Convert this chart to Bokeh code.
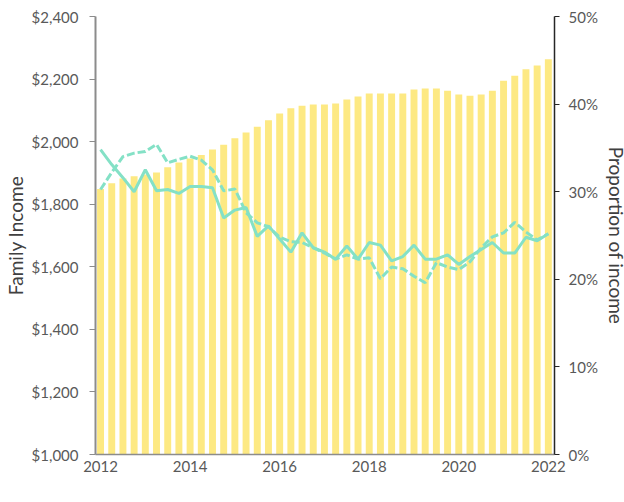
from bokeh.plotting import figure
from bokeh.models import (ColumnDataSource, Range1d, LinearAxis, FixedTicker,
                          NumeralTickFormatter, PrintfTickFormatter, Legend, LegendItem)
from bokeh.embed import file_html
from bokeh.resources import INLINE

# ---- data (quarterly, 2012 Q1 .. 2022 Q1) ----
year_labels = ["2012", "2014", "2016", "2018", "2020", "2022"]
family_income = [1849, 1867, 1882, 1889, 1895, 1901, 1918, 1933, 1946, 1957,
                 1975, 1990, 2011, 2029, 2048, 2068, 2090, 2107, 2115, 2119,
                 2119, 2122, 2135, 2144, 2154, 2154, 2154, 2154, 2167, 2170,
                 2170, 2163, 2151, 2147, 2151, 2163, 2195, 2211, 2231, 2243, 2263]
proportion_buy = [34.8, 33.1, 31.6, 30.0, 32.5, 30.1, 30.25, 29.8, 30.6, 30.6,
                  30.45, 27.0, 27.9, 28.2, 24.9, 26.1, 24.6, 23.1, 25.3, 23.6,
                  23.1, 22.3, 23.8, 22.3, 24.2, 23.9, 22.1, 22.6, 23.9, 22.3,
                  22.3, 22.8, 21.7, 22.6, 23.4, 24.2, 23.0, 23.0, 24.8, 24.4, 25.2]
proportion_rent = [30.25, 32.2, 34.0, 34.4, 34.6, 35.4, 33.3, 33.7, 34.05, 33.6,
                   32.5, 30.1, 30.3, 27.6, 26.45, 26.0, 24.8, 24.3, 24.2, 23.6,
                   23.0, 22.3, 22.8, 22.3, 22.45, 20.06, 21.4, 21.2, 20.35, 19.6,
                   21.9, 21.4, 21.1, 22.0, 23.6, 24.85, 25.3, 26.5, 25.4, 24.5, 25.2]
quarter_index = list(range(len(family_income)))

src = ColumnDataSource(dict(x=quarter_index, income=family_income,
                            buy=proportion_buy, rent=proportion_rent))

FONT = "Lato"
TICK_COLOR = "#595959"
LABEL_COLOR = "#404040"
BAR_COLOR = "#FDE983"
LINE_COLOR = "#84E1C6"

p = figure(frame_width=459, frame_height=438, output_backend="svg",
           toolbar_location=None,
           x_range=Range1d(-0.45, len(family_income) - 0.45),
           y_range=Range1d(1000, 2400),
           min_border_left=88, min_border_right=0, min_border_top=16,
           min_border_bottom=0)
p.grid.visible = False
p.outline_line_color = None
p.background_fill_color = "white"
p.border_fill_color = "white"

p.extra_y_ranges = {"pct": Range1d(0, 50)}

bars = p.vbar(x="x", top="income", bottom=1000, width=0.62, source=src,
              fill_color=BAR_COLOR, line_color=None)
l_buy = p.line(x="x", y="buy", source=src, y_range_name="pct",
               line_color=LINE_COLOR, line_width=3)
l_rent = p.line(x="x", y="rent", source=src, y_range_name="pct",
                line_color=LINE_COLOR, line_width=3, line_dash="8 3")

# x axis
xa = p.xaxis[0]
xa.axis_label = None
xa.axis_label_standoff = 0
xa.ticker = FixedTicker(ticks=[i * 8 for i in range(len(year_labels))])
xa.major_label_overrides = {i * 8: y for i, y in enumerate(year_labels)}
xa.major_tick_out = 0
xa.major_tick_in = 0
xa.minor_tick_out = 0
xa.minor_tick_in = 0
xa.axis_line_color = "#8c8c8c"
xa.axis_line_width = 1.5
xa.major_label_standoff = 6
xa.major_label_text_font = FONT
xa.major_label_text_font_size = "15px"
xa.major_label_text_color = TICK_COLOR

# left axis
ya = p.yaxis[0]
ya.ticker = FixedTicker(ticks=list(range(1000, 2401, 200)))
ya.formatter = NumeralTickFormatter(format="$0,0")
ya.axis_label = "Family Income"
ya.axis_label_text_font = FONT
ya.axis_label_text_font_style = "normal"
ya.axis_label_text_font_size = "19px"
ya.axis_label_text_color = LABEL_COLOR
ya.axis_label_standoff = 2
ya.major_tick_out = 6
ya.major_tick_in = 0
ya.minor_tick_out = 0
ya.minor_tick_in = 0
ya.axis_line_color = "#8c8c8c"
ya.axis_line_width = 2
ya.major_tick_line_color = "#8c8c8c"
ya.major_label_standoff = 11
ya.major_label_text_font = FONT
ya.major_label_text_font_size = "15px"
ya.major_label_text_color = TICK_COLOR

# right axis
ra = LinearAxis(y_range_name="pct",
                ticker=FixedTicker(ticks=list(range(0, 51, 10))),
                formatter=PrintfTickFormatter(format="%d%%"))
ra.axis_label = "Proportion of income"
ra.axis_label_text_font = FONT
ra.axis_label_text_font_style = "normal"
ra.axis_label_text_font_size = "19px"
ra.axis_label_text_line_height = 1.0
ra.axis_label_text_color = LABEL_COLOR
ra.axis_label_standoff = 4
ra.major_tick_out = 5
ra.major_tick_in = 0
ra.minor_tick_out = 0
ra.minor_tick_in = 0
ra.axis_line_color = "#262626"
ra.axis_line_width = 1.5
ra.major_tick_line_color = "#262626"
ra.major_label_standoff = 9
ra.major_label_text_font = FONT
ra.major_label_text_font_size = "15px"
ra.major_label_text_color = TICK_COLOR
p.add_layout(ra, "right")

legend = Legend(items=[LegendItem(label="Family income", renderers=[bars]),
                       LegendItem(label="Proportion to buy", renderers=[l_buy]),
                       LegendItem(label="Proportion to rent", renderers=[l_rent])],
                orientation="horizontal", location="top_center",
                glyph_width=30, glyph_height=10, label_height=14,
                spacing=36, label_standoff=4, padding=0, margin=2,
                border_line_color=None, background_fill_alpha=0,
                label_text_font=FONT, label_text_font_size="15px",
                label_text_color=TICK_COLOR)
p.add_layout(legend, "below")

open("out.html", "w").write(file_html(p, INLINE))
